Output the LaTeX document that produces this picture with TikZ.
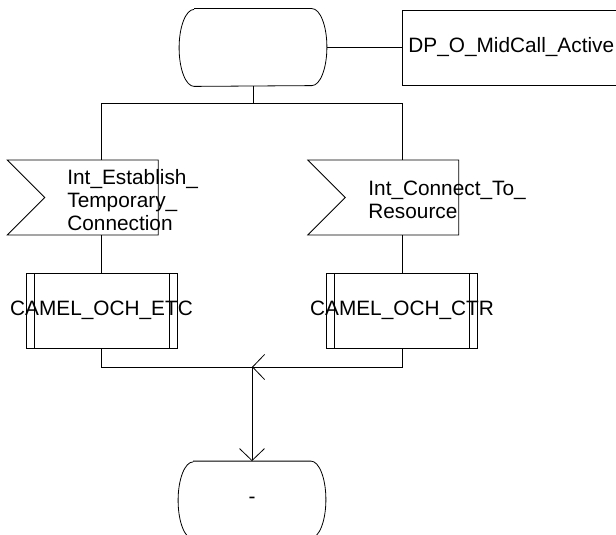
\documentclass[tikz,border=0pt]{standalone}
\usepackage{fontspec}
\setmainfont{Liberation Sans}
\usetikzlibrary{arrows.meta, positioning, shapes.symbols}

\begin{document}
\begin{tikzpicture}[
    x=1pt, y=1pt,
    line width=0.8pt,
    font=\fontsize{20.8pt}{23pt}\selectfont,
    state/.style={rectangle, minimum width=147pt, minimum height=77pt, inner sep=0pt,
                  append after command={\pgfextra{
                    \draw ([xshift=15pt]\tikzlastnode.north west)
                      -- ([xshift=-15pt]\tikzlastnode.north east)
                      arc[x radius=15pt, y radius=38.5pt, start angle=90, end angle=-90]
                      -- ([xshift=15pt]\tikzlastnode.south west)
                      arc[x radius=15pt, y radius=38.5pt, start angle=270, end angle=90];
                  }}},
    dpbox/.style={rectangle, draw, minimum height=75pt, text width=218pt,
                  align=left, inner xsep=6pt},
    sigin/.style={signal, signal to=nowhere, signal from=west,
                  signal pointer angle=90, draw,
                  minimum width=151pt, minimum height=75pt, inner sep=0pt},
    sigtext/.style={anchor=west, align=left, inner sep=0pt},
    proc/.style={rectangle, draw, minimum width=151pt, minimum height=75pt,
                 inner sep=0pt,
                 path picture={
                   \draw ([xshift=8pt]path picture bounding box.north west)
                      -- ([xshift=8pt]path picture bounding box.south west);
                   \draw ([xshift=-8pt]path picture bounding box.north east)
                      -- ([xshift=-8pt]path picture bounding box.south east);
                 }},
    arr/.style={-{Straight Barb[length=12pt, width=25pt]}},
  ]
    \useasboundingbox (0,0) rectangle (616,-535);

    \node[state] (start) at (253,-47.5) {};
    \node[dpbox, anchor=west] (dp) at (402,-47.5) {DP\_O\_MidCall\_Active};

    \coordinate (fork) at (253,-103.5);

    \node[sigin] (sigest) at (101.5,-197.5) {};
    \node[sigtext] (sigesttxt) at (67,-200) {Int\_Establish\_\\Temporary\_\\Connection};
    \node[sigin] (sigctr) at (402,-197.5) {};
    \node[sigtext] (sigctrtxt) at (368,-200) {Int\_Connect\_To\_\\Resource};

    \node[proc, label=center:CAMEL\_OCH\_ETC] (procetc) at (101.5,-310.5) {};
    \node[proc, label=center:CAMEL\_OCH\_CTR] (procctr) at (402,-310.5) {};

    \coordinate (join) at (252,-367);
    \node[state] (stop) at (252,-500) {-};

    % branches
    \draw (start) -- (dp);
    \draw (start) -- (fork);
    \draw (fork) -| (sigest.north);
    \draw (fork) -| (sigctr.north);
    \draw (sigest) -- (procetc);
    \draw (sigctr) -- (procctr);
    \draw (procetc.south) |- (join);
    \draw[arr] (procctr.south) |- (join);
    \draw[arr] (join) -- (stop.north);
\end{tikzpicture}
\end{document}
